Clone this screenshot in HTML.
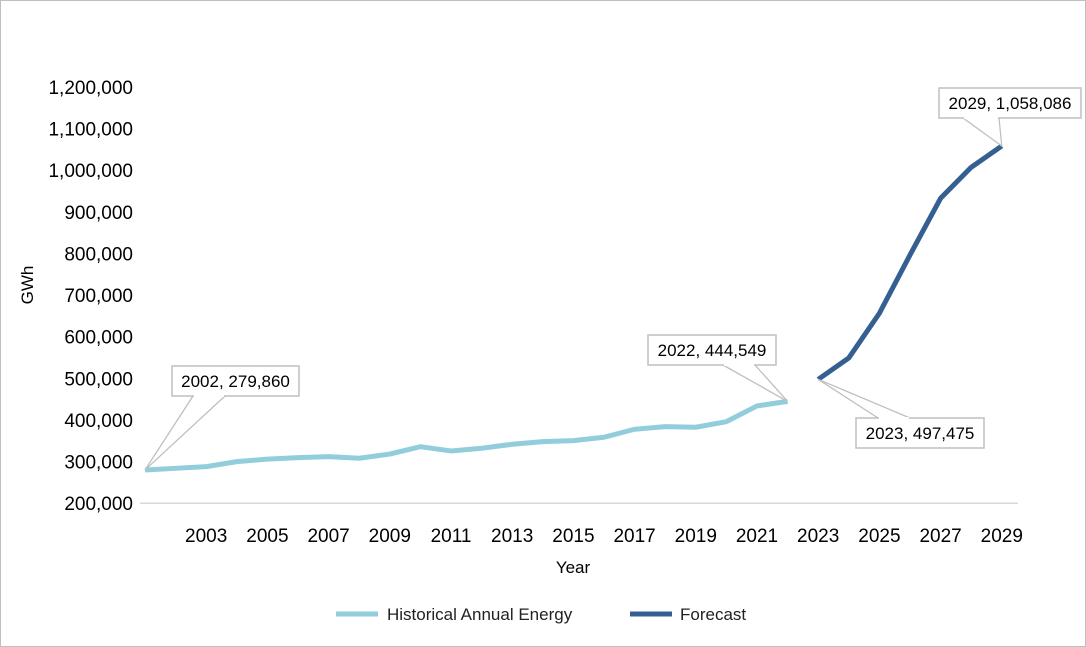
<!DOCTYPE html>
<html><head><meta charset="utf-8"><style>
html,body{margin:0;padding:0;background:#fff}
svg{display:block;font-family:"Liberation Sans",sans-serif}
</style></head><body>
<svg id="chart" width="1086" height="647" viewBox="0 0 1086 647" xmlns="http://www.w3.org/2000/svg">
<rect x="0.5" y="0.5" width="1085" height="646" fill="#fff" stroke="#bfbfbf"/>
<g id="yaxis"></g>
<g id="xaxis"></g>
<g id="series"></g>
<g id="annos"></g>
<text transform="translate(33,285) rotate(-90)" text-anchor="middle" font-size="17" fill="#000">GWh</text>
<text x="573" y="573" text-anchor="middle" font-size="17" fill="#000">Year</text>
<g>
<g>
<line x1="336" y1="614" x2="378" y2="614" stroke="#92cddc" stroke-width="5"/>
<text x="387" y="620" font-size="17" fill="#222">Historical Annual Energy</text></g>
<g>
<line x1="630" y1="614" x2="672" y2="614" stroke="#365f91" stroke-width="5"/>
<text x="680" y="620" font-size="17" fill="#222">Forecast</text></g>
</g>
</svg>
<script>
const categories = [2001,2002,2003,2004,2005,2006,2007,2008,2009,2010,2011,2012,2013,2014,2015,2016,2017,2018,2019,2020,2021,2022,2023,2024,2025,2026,2027,2028,2029];
const xTickLabels = [2003,2005,2007,2009,2011,2013,2015,2017,2019,2021,2023,2025,2027,2029];
const yTicks = [200000,300000,400000,500000,600000,700000,800000,900000,1000000,1100000,1200000];
const histStartIndex = 0;
const histValues = [279860,283800,287800,299800,306000,309400,311800,308000,318000,335800,325500,332000,341500,347800,350200,358400,377600,384000,382400,395900,433600,444549];
const forecastStartIndex = 22;
const forecastValues = [497475,548900,656300,796300,932500,1006900,1058086];
const annoLabels = ["2002,  279,860","2022,  444,549","2023,  497,475","2029,  1,058,086"];

const NS="http://www.w3.org/2000/svg";
const x0=145, dx=30.6, yBase=503.2, yPer=0.0004163;
function xs(i){return x0+i*dx;}
function ys(v){return yBase-(v-200000)*yPer;}
function mk(tag,attrs,parent,txt){const e=document.createElementNS(NS,tag);for(const k in attrs)e.setAttribute(k,attrs[k]);if(txt!==undefined)e.textContent=txt;parent.appendChild(e);return e;}
const yg=document.getElementById('yaxis'), xg=document.getElementById('xaxis'), sg=document.getElementById('series'), ag=document.getElementById('annos');
yTicks.forEach(v=>{
  const t=mk('text',{x:133,y:ys(v)+7,'text-anchor':'end','font-size':19,fill:'#000'},yg,v.toLocaleString('en-US'));
  
  
});
const axl=mk('line',{x1:140,y1:ys(200000),x2:1018,y2:ys(200000),stroke:'#d9d9d9','stroke-width':1.5},xg);


xTickLabels.forEach(yr=>{
  const i=categories.indexOf(yr);
  const t=mk('text',{x:xs(i),y:542,'text-anchor':'middle','font-size':19,fill:'#000'},xg,String(yr));
  
  
});
function pts(vals,start){return vals.map((v,k)=>[xs(start+k),ys(v)]);}
const hp=pts(histValues,histStartIndex), fp=pts(forecastValues,forecastStartIndex);
const l1=mk('polyline',{points:hp.map(p=>p.join(',')).join(' '),fill:'none',stroke:'#92cddc','stroke-width':5,'stroke-linejoin':'round'},sg);


const l2=mk('polyline',{points:fp.map(p=>p.join(',')).join(' '),fill:'none',stroke:'#365f91','stroke-width':5,'stroke-linejoin':'round'},sg);


const annos=[
 [hp[0],172,366,127,[21,53],'bottom'],
 [hp[hp.length-1],648,335,128,[75,107],'bottom'],
 [fp[0],856,418,128,[22,54],'top'],
 [fp[fp.length-1],939,88,142,[24,60],'bottom']
];
annos.forEach((a,k)=>{
  const [p,bx,by,bw,offs,side]=a, bh=30;
  const g=mk('g',{},ag);
  
  
  const ly=side==='bottom'?by+bh:by;
  mk('polygon',{points:`${bx+offs[0]},${ly} ${p[0]},${p[1]} ${bx+offs[1]},${ly}`,fill:'#fff',stroke:'#bfbfbf','stroke-width':1.3},g);
  mk('rect',{x:bx,y:by,width:bw,height:bh,fill:'#fff',stroke:'#bfbfbf','stroke-width':1.5},g);
  mk('line',{x1:bx+offs[0]+1,y1:ly,x2:bx+offs[1]-1,y2:ly,stroke:'#fff','stroke-width':2},g);
  mk('text',{x:bx+bw/2,y:by+21,'text-anchor':'middle','font-size':17,fill:'#000','xml:space':'preserve'},g,annoLabels[k]);
});
</script>
</body></html>
